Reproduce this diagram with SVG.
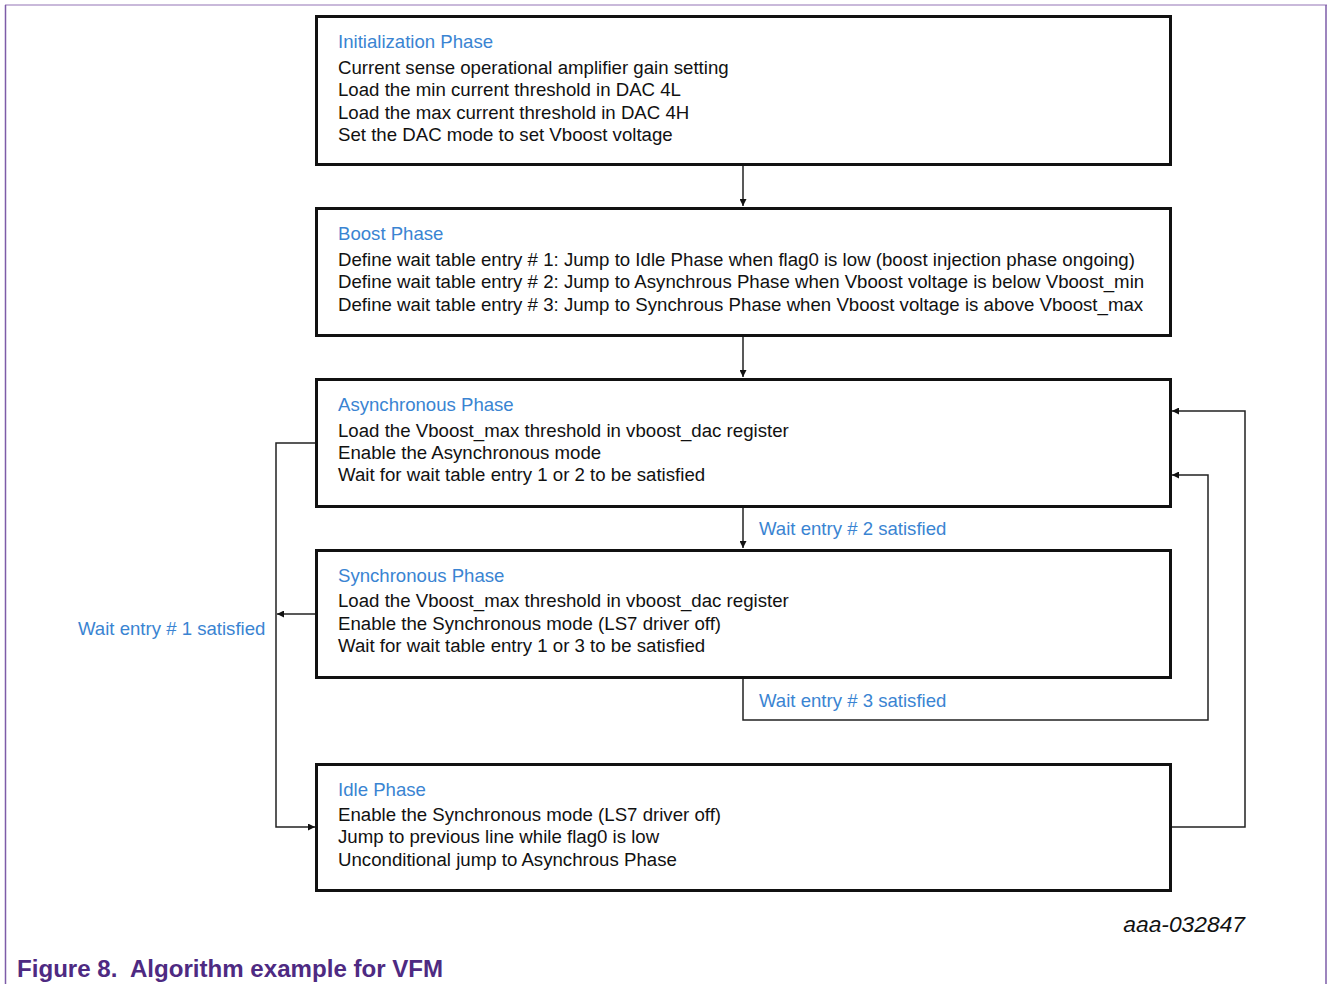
<svg xmlns="http://www.w3.org/2000/svg" width="1328" height="984" viewBox="0 0 1328 984">
<style>
.box{fill:#fff;stroke:#111;stroke-width:3}
.t{font-family:"Liberation Sans",Arial,sans-serif;font-size:18.65px;fill:#111}
.h{font-family:"Liberation Sans",Arial,sans-serif;font-size:18.6px;fill:#3a84d2}
.c{fill:none;stroke:#222;stroke-width:1.5}
</style>
<defs>
<marker id="ah" viewBox="0 0 10 10" refX="10" refY="5" markerWidth="7" markerHeight="7" markerUnits="userSpaceOnUse" orient="auto">
<path d="M0,0 L10,5 L0,10 z" fill="#111"/>
</marker>
</defs>
<rect x="0" y="0" width="1328" height="984" fill="#fff"/>
<g id="frame">
<line x1="5" y1="5" x2="1327" y2="5" stroke="#c9b9da" stroke-width="2"/>
<line x1="5.5" y1="5" x2="5.5" y2="984" stroke="#7d5ca8" stroke-width="1.5"/>
<line x1="1326" y1="5" x2="1326" y2="984" stroke="#7d5ca8" stroke-width="1.5"/>
</g>
<g id="connectors">
<path class="c" d="M743,166 V206" marker-end="url(#ah)"/>
<path class="c" d="M743,337 V377" marker-end="url(#ah)"/>
<path class="c" d="M743,508 V548" marker-end="url(#ah)"/>
<path class="c" d="M316,443 H276 V827 H315" marker-end="url(#ah)"/>
<path class="c" d="M316,614 H277" marker-end="url(#ah)"/>
<path class="c" d="M1171,827 H1245 V411 H1172" marker-end="url(#ah)"/>
<path class="c" d="M743,679 V720 H1208 V475 H1172" marker-end="url(#ah)"/>
<text class="h" x="759" y="535">Wait entry # 2 satisfied</text>
<text class="h" x="759" y="707">Wait entry # 3 satisfied</text>
<text class="h" x="78" y="635">Wait entry # 1 satisfied</text>
</g>
<g id="init">
<rect class="box" x="316.5" y="16.5" width="854" height="148"/>
<text class="h" x="338" y="48">Initialization Phase</text>
<text class="t" x="338" y="74">Current sense operational amplifier gain setting</text>
<text class="t" x="338" y="96">Load the min current threshold in DAC 4L</text>
<text class="t" x="338" y="119">Load the max current threshold in DAC 4H</text>
<text class="t" x="338" y="141">Set the DAC mode to set Vboost voltage</text>
</g>
<g id="boost">
<rect class="box" x="316.5" y="208.5" width="854" height="127"/>
<text class="h" x="338" y="240">Boost Phase</text>
<text class="t" x="338" y="266">Define wait table entry # 1: Jump to Idle Phase when flag0 is low (boost injection phase ongoing)</text>
<text class="t" x="338" y="288">Define wait table entry # 2: Jump to Asynchrous Phase when Vboost voltage is below Vboost_min</text>
<text class="t" x="338" y="311">Define wait table entry # 3: Jump to Synchrous Phase when Vboost voltage is above Vboost_max</text>
</g>
<g id="async">
<rect class="box" x="316.5" y="379.5" width="854" height="127"/>
<text class="h" x="338" y="411">Asynchronous Phase</text>
<text class="t" x="338" y="437">Load the Vboost_max threshold in vboost_dac register</text>
<text class="t" x="338" y="459">Enable the Asynchronous mode</text>
<text class="t" x="338" y="481">Wait for wait table entry 1 or 2 to be satisfied</text>
</g>
<g id="sync">
<rect class="box" x="316.5" y="550.5" width="854" height="127"/>
<text class="h" x="338" y="582">Synchronous Phase</text>
<text class="t" x="338" y="607">Load the Vboost_max threshold in vboost_dac register</text>
<text class="t" x="338" y="630">Enable the Synchronous mode (LS7 driver off)</text>
<text class="t" x="338" y="652">Wait for wait table entry 1 or 3 to be satisfied</text>
</g>
<g id="idle">
<rect class="box" x="316.5" y="764.5" width="854" height="126"/>
<text class="h" x="338" y="796">Idle Phase</text>
<text class="t" x="338" y="821">Enable the Synchronous mode (LS7 driver off)</text>
<text class="t" x="338" y="843">Jump to previous line while flag0 is low</text>
<text class="t" x="338" y="866">Unconditional jump to Asynchrous Phase</text>
</g>
<text x="1245" y="932" text-anchor="end" font-family="Liberation Sans,Arial,sans-serif" font-size="22.8" font-style="italic" fill="#111">aaa-032847</text>
<text x="17" y="977" font-family="Liberation Sans,Arial,sans-serif" font-size="24.1" font-weight="bold" fill="#4e2a82" xml:space="preserve">Figure 8.  Algorithm example for VFM</text>
</svg>
